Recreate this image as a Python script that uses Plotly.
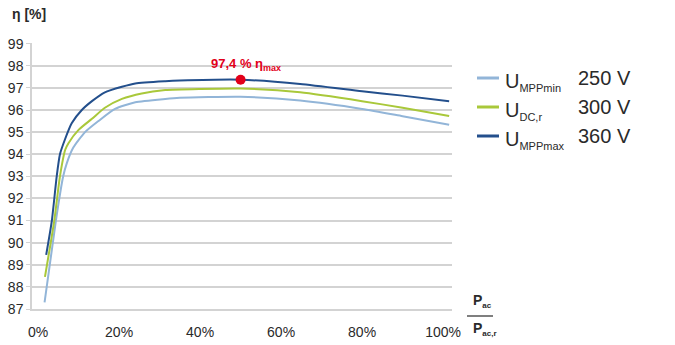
import plotly.graph_objects as go

# ---- data ----
load_250 = [1.6, 4.4, 6.2, 7.1, 8.7, 11.6, 14.9, 19, 24, 31.4, 35, 50, 64.7, 80, 90, 101.5]
eta_250 = [87.3, 91.0, 93.0, 93.6, 94.3, 95.0, 95.5, 96.05, 96.35, 96.5, 96.55, 96.6, 96.43, 96.05, 95.72, 95.33]

load_300 = [1.7, 4.0, 5.4, 6.7, 7.5, 10, 13.3, 16.5, 20.7, 25.6, 31.4, 40, 50, 64.7, 80, 90, 101.5]
eta_300 = [88.45, 91.0, 93.0, 94.2, 94.5, 95.1, 95.6, 96.1, 96.5, 96.75, 96.9, 96.95, 96.97, 96.8, 96.4, 96.1, 95.73]

load_360 = [2.0, 3.4, 4.6, 5.4, 6.7, 8.3, 10.8, 13.3, 16.5, 20.7, 24, 31.4, 35, 50, 64.7, 80, 90, 101.5]
eta_360 = [89.45, 91.0, 93.0, 94.0, 94.7, 95.4, 96.0, 96.4, 96.8, 97.05, 97.2, 97.3, 97.33, 97.37, 97.18, 96.85, 96.65, 96.4]

peak_load = [50]
peak_eta = [97.37]
peak_label = "97,4 % η"

series_sub = ["MPPmin", "DC,r", "MPPmax"]
series_volt = ["250 V", "300 V", "360 V"]
colors = ["#92b5d8", "#a9c83a", "#234f8c"]

x_ticks = [0, 20, 40, 60, 80, 100]
x_tick_text = ["0%", "20%", "40%", "60%", "80%", "100%"]
y_ticks = list(range(87, 100))

# ---- geometry helpers (pixel -> paper) ----
L, R, T, B = 32, 452, 43, 309
W, H = 675, 345
def px(x):
    return (x - L) / (R - L)
def py(y):
    return (B - y) / (B - T)

fig = go.Figure()
for xs, ys, c in zip([load_250, load_300, load_360], [eta_250, eta_300, eta_360], colors):
    fig.add_trace(go.Scatter(x=xs, y=ys, mode="lines",
                             line=dict(color=c, width=2, shape="spline", smoothing=0.6),
                             showlegend=False, hoverinfo="skip"))

fig.add_trace(go.Scatter(x=peak_load, y=peak_eta, mode="markers",
                         marker=dict(color="#e2001a", size=10),
                         showlegend=False, hoverinfo="skip"))

grid = "#d3d3d3"
txt = "#2a2a2a"
fam = "Liberation Sans, Arial, sans-serif"

fig.update_layout(
    width=W, height=H,
    margin=dict(l=L, r=W - R, t=T, b=H - B, pad=0, autoexpand=False),
    paper_bgcolor="white", plot_bgcolor="white",
    font=dict(family=fam, color=txt, size=13),
    xaxis=dict(range=[-1.5, 102.2], tickvals=x_ticks, ticktext=x_tick_text,
               showgrid=False, zeroline=False, showline=True, linecolor=grid,
               linewidth=1.5, ticks="", tickfont=dict(size=14, color=txt),
               ticklabelstandoff=9, automargin=False),
    yaxis=dict(range=[87, 99.03], tickvals=y_ticks, showgrid=True, gridcolor=grid,
               gridwidth=1.5, zeroline=False, showline=True, linecolor=grid,
               linewidth=1.5, ticks="outside", ticklen=4, tickcolor=grid,
               tickfont=dict(size=14, color=txt), automargin=False),
)

ann = []
# y-axis title
ann.append(dict(x=px(10), y=py(14), xref="paper", yref="paper", xanchor="left", yanchor="middle",
                text="<b>η [%]</b>", showarrow=False, font=dict(size=14, color=txt)))
# peak label
ann.append(dict(x=peak_load[0], y=peak_eta[0], xref="x", yref="y", xanchor="center", yanchor="bottom",
                xshift=5, yshift=5,
                text="<b>" + peak_label + "<sub><span style='font-size:9px'>max</span></sub></b>",
                showarrow=False, font=dict(size=13, color="#e2001a")))
# legend
rows = [78, 107, 136]
shapes = []
for r, sub, v, c in zip(rows, series_sub, series_volt, colors):
    shapes.append(dict(type="line", xref="paper", yref="paper", x0=px(477), x1=px(499),
                       y0=py(r), y1=py(r), line=dict(color=c, width=3)))
    ann.append(dict(x=px(503), y=py(r), xref="paper", yref="paper", xanchor="left", yanchor="middle",
                    yshift=-4,
                    text="U<sub><span style='font-size:11px'>" + sub + "</span></sub>",
                    showarrow=False, font=dict(size=20, color=txt)))
    ann.append(dict(x=px(576), y=py(r), xref="paper", yref="paper", xanchor="left", yanchor="middle",
                    text=v, showarrow=False, font=dict(size=20, color=txt)))
# x-axis title fraction
ann.append(dict(x=px(471), y=py(312), xref="paper", yref="paper", xanchor="left", yanchor="bottom",
                text="<b>P<sub><span style='font-size:8px'>ac</span></sub></b>",
                showarrow=False, font=dict(size=14, color=txt)))
ann.append(dict(x=px(471), y=py(318), xref="paper", yref="paper", xanchor="left", yanchor="top",
                text="<b>P<sub><span style='font-size:8px'>ac,r</span></sub></b>",
                showarrow=False, font=dict(size=14, color=txt)))
shapes.append(dict(type="line", xref="paper", yref="paper", x0=px(467), x1=px(493),
                   y0=py(316), y1=py(316), line=dict(color=txt, width=1.2)))

fig.update_layout(annotations=ann, shapes=shapes)
fig.write_html("out.html")
